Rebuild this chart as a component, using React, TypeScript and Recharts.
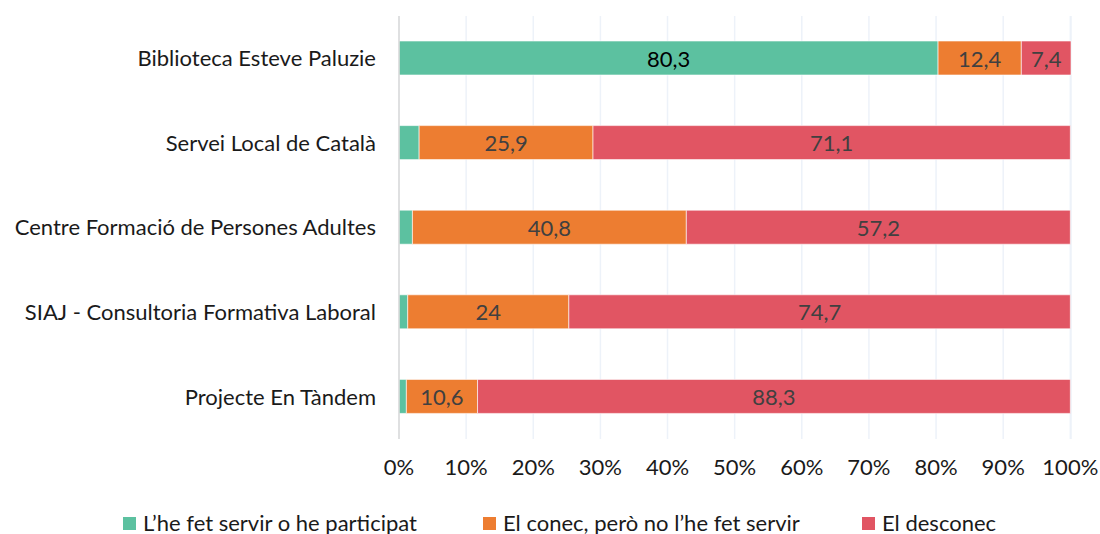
import React from 'react';
import { BarChart, Bar, XAxis, YAxis, CartesianGrid, LabelList, Legend } from 'recharts';

const categories = [
  'Biblioteca Esteve Paluzie',
  'Servei Local de Català',
  'Centre Formació de Persones Adultes',
  'SIAJ - Consultoria Formativa Laboral',
  'Projecte En Tàndem',
];
const usedValues = [80.3, 3.0, 2.0, 1.3, 1.1];
const knownValues = [12.4, 25.9, 40.8, 24, 10.6];
const unknownValues = [7.4, 71.1, 57.2, 74.7, 88.3];
const xTicks = [0, 10, 20, 30, 40, 50, 60, 70, 80, 90, 100];
const seriesNames = ["L’he fet servir o he participat", 'El conec, però no l’he fet servir', 'El desconec'];
const seriesColors = ['#5cc1a0', '#ed7d31', '#e15563'];

const data = categories.map((name, i) => ({
  name,
  used: usedValues[i],
  known: knownValues[i],
  unknown: unknownValues[i],
}));

const FONT = 'Lato, "Open Sans", sans-serif';
const FS = 22;

const fmt = (v: any) => String(v).replace('.', ',');

const makeLabel = (color: string, minVal: number) => (props: any) => {
  const { x, y, width, height, value } = props;
  if (value == null || value < minVal) return null;
  return (
    <text
      x={x + width / 2}
      y={y + height / 2}
      textAnchor="middle"
      dominantBaseline="central"
      fill={color}
      fontSize={FS}
      fontFamily={FONT}
    >
      {fmt(value)}
    </text>
  );
};

const LegendContent = () => {
  const xs = [123, 483, 862];
  return (
    <div style={{ position: 'relative', width: 1100, height: 30, fontFamily: FONT, fontSize: FS, color: '#1a1a1a' }}>
      {seriesNames.map((n, i) => (
        <div key={n} style={{ position: 'absolute', left: xs[i], top: 31, display: 'flex', alignItems: 'center', whiteSpace: 'nowrap', lineHeight: '26px' }}>
          <span style={{ display: 'inline-block', width: 13, height: 13, background: seriesColors[i], marginRight: 7 }} />
          <span>{n}</span>
        </div>
      ))}
    </div>
  );
};

export default function App() {
  return (
    <div style={{ position: 'absolute', left: 0, top: 0, width: 1100, height: 534, background: '#fff' }}>
      <BarChart
        width={1100}
        height={534}
        data={data}
        layout="vertical"
        margin={{ top: 16, right: 29, bottom: 25, left: 0 }}
        barCategoryGap={0}
      >
        <CartesianGrid horizontal={false} stroke="#edf2f9" strokeWidth={1.5} />
        <XAxis
          type="number"
          domain={[0, 100]}
          ticks={xTicks}
          tickFormatter={(v: number) => `${v}%`}
          axisLine={false}
          tickLine={false}
          tickSize={0}
          tickMargin={20}
          height={40}
          interval={0}
          tick={{ fill: '#1a1a1a', fontSize: FS, fontFamily: FONT }}
        />
        <YAxis
          type="category"
          dataKey="name"
          width={399}
          axisLine={{ stroke: '#d9d9d9', strokeWidth: 1.5 }}
          tickLine={false}
          tickSize={0}
          tickMargin={23}
          interval={0}
          tick={{ fill: '#1a1a1a', fontSize: FS, fontFamily: FONT }}
        />
        <Legend verticalAlign="bottom" height={30} content={() => <LegendContent />} />
        <Bar dataKey="used" name={seriesNames[0]} stackId="a" fill={seriesColors[0]} barSize={34} stroke="#ffffff" strokeOpacity={0.6} strokeWidth={1} isAnimationActive={false}>
          <LabelList dataKey="used" content={makeLabel('#000000', 5)} />
        </Bar>
        <Bar dataKey="known" name={seriesNames[1]} stackId="a" fill={seriesColors[1]} barSize={34} stroke="#ffffff" strokeOpacity={0.6} strokeWidth={1} isAnimationActive={false}>
          <LabelList dataKey="known" content={makeLabel('#404040', 0)} />
        </Bar>
        <Bar dataKey="unknown" name={seriesNames[2]} stackId="a" fill={seriesColors[2]} barSize={34} stroke="#ffffff" strokeOpacity={0.6} strokeWidth={1} isAnimationActive={false}>
          <LabelList dataKey="unknown" content={makeLabel('#404040', 0)} />
        </Bar>
      </BarChart>
    </div>
  );
}
